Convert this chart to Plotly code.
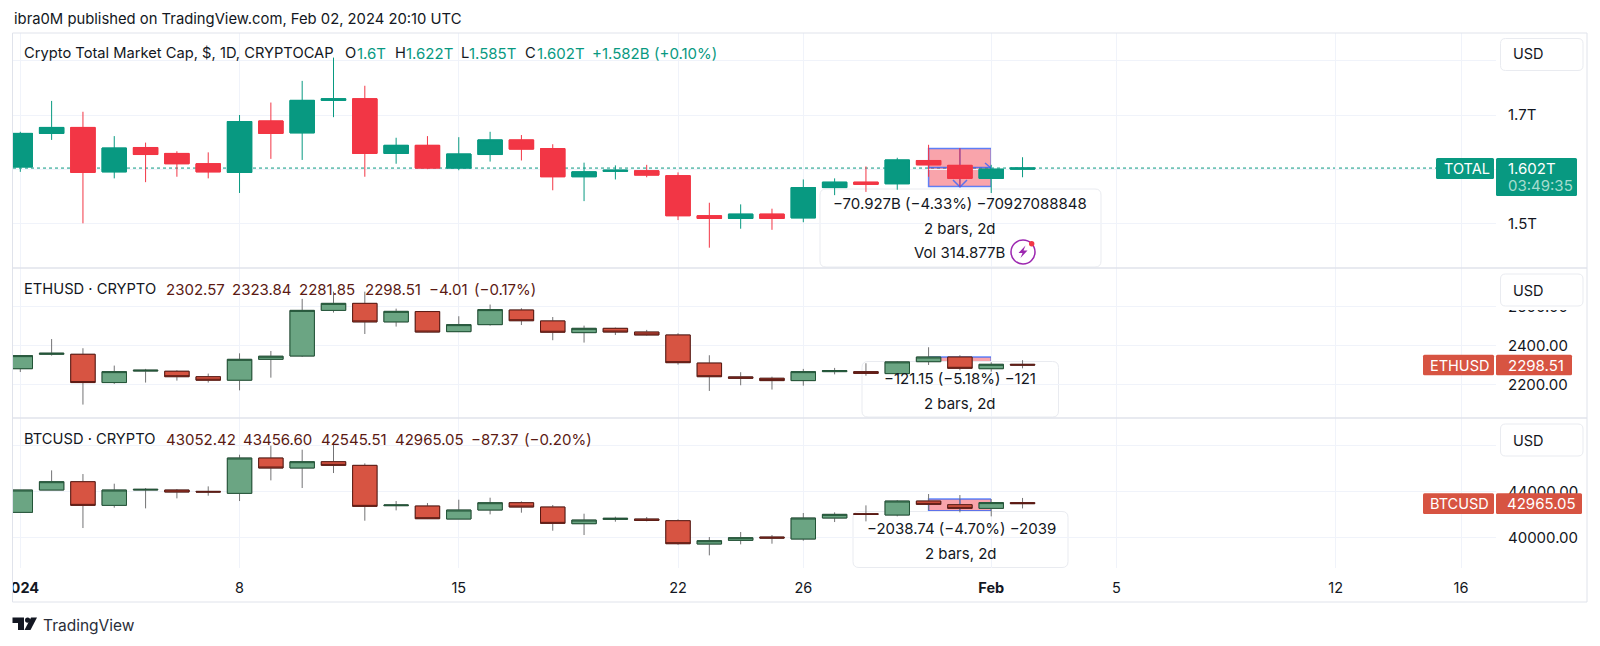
#!/usr/bin/env python3
"""TradingView style snapshot: total market cap, ETHUSD and BTCUSD daily candles."""

from datetime import timedelta

import pandas as pd
import plotly.graph_objects as go

WIDTH, HEIGHT = 1600, 646
FONT = "Inter, 'Noto Sans', sans-serif"
INK = "#131722"
GRID = "#f0f3fa"
FRAME = "#e0e3eb"
TV_GREEN = "#089981"
TV_RED = "#f23645"
MUTED_GREEN = "#6ba583"
MUTED_RED = "#d75442"
DARK_GREEN = "#225437"
DARK_RED = "#5b1a13"
WICK_GREY = "#737375"

dates = pd.date_range("2024-01-01", "2024-02-02", freq="D")

total_open = [1.604, 1.666, 1.677, 1.595, 1.640, 1.629, 1.610, 1.594, 1.689, 1.667, 1.727,
              1.730, 1.629, 1.644, 1.602, 1.627, 1.654, 1.638, 1.586, 1.596, 1.597, 1.588,
              1.514, 1.509, 1.517, 1.510, 1.566, 1.576, 1.573, 1.616, 1.607, 1.583, 1.600]
total_high = [1.669, 1.726, 1.706, 1.661, 1.649, 1.633, 1.631, 1.700, 1.723, 1.763, 1.806,
              1.754, 1.658, 1.661, 1.659, 1.669, 1.663, 1.646, 1.612, 1.607, 1.608, 1.594,
              1.538, 1.535, 1.527, 1.581, 1.583, 1.605, 1.621, 1.645, 1.639, 1.608, 1.622]
total_low = [1.595, 1.654, 1.500, 1.583, 1.576, 1.586, 1.583, 1.556, 1.619, 1.617, 1.696,
             1.586, 1.610, 1.600, 1.598, 1.614, 1.616, 1.561, 1.541, 1.581, 1.585, 1.506,
             1.455, 1.490, 1.488, 1.502, 1.552, 1.558, 1.562, 1.586, 1.568, 1.556, 1.585]
total_close = [1.666, 1.677, 1.594, 1.639, 1.627, 1.610, 1.595, 1.688, 1.666, 1.727, 1.730,
               1.629, 1.644, 1.602, 1.628, 1.654, 1.637, 1.586, 1.595, 1.598, 1.589, 1.514,
               1.509, 1.517, 1.509, 1.566, 1.576, 1.572, 1.617, 1.608, 1.583, 1.600, 1.602]

eth_open = [2280, 2354, 2354, 2209, 2268, 2267, 2239, 2221, 2328, 2345, 2579, 2615, 2520,
            2573, 2470, 2506, 2581, 2525, 2465, 2487, 2468, 2453, 2309, 2238, 2231, 2219,
            2265, 2265, 2255, 2316, 2340, 2280, 2302.57]
eth_high = [2347, 2432, 2385, 2296, 2279, 2272, 2255, 2359, 2371, 2638, 2675, 2675, 2588,
            2576, 2549, 2609, 2590, 2545, 2501, 2491, 2479, 2462, 2349, 2262, 2239, 2279,
            2284, 2308, 2318, 2390, 2349, 2313, 2323.84]
eth_low = [2263, 2347, 2096, 2202, 2209, 2219, 2209, 2169, 2234, 2340, 2568, 2458, 2496,
           2467, 2468, 2501, 2504, 2426, 2414, 2453, 2450, 2301, 2166, 2195, 2173, 2193,
           2251, 2244, 2244, 2299, 2272, 2265, 2281.85]
eth_close = [2347, 2359, 2209, 2265, 2272, 2239, 2221, 2328, 2344, 2579, 2615, 2520, 2574,
             2468, 2506, 2583, 2526, 2467, 2487, 2468, 2453, 2311, 2239, 2231, 2219, 2265,
             2270, 2256, 2315, 2340, 2282, 2302.5, 2298.51]

btc_open = [42203, 44145, 44870, 42812, 44145, 44145, 44029, 43855, 46928, 46058, 46609,
            46290, 42783, 42754, 41623, 42406, 43043, 42667, 41217, 41594, 41623, 41478,
            39449, 39768, 40058, 39884, 41710, 42087, 41971, 43188, 42870, 42551, 43052.42]
btc_high = [44145, 45855, 45536, 44696, 44319, 44232, 44464, 47217, 48000, 47652, 48290,
            46464, 43188, 43014, 43304, 43478, 43159, 42841, 42087, 41826, 41797, 41594,
            40058, 40493, 40232, 42145, 42203, 42812, 43275, 43797, 43710, 43362, 43456.60]
btc_low = [42203, 44145, 40840, 42609, 42551, 43420, 43652, 43188, 44986, 44319, 45623,
           41478, 42377, 41623, 41623, 42029, 42174, 40609, 40232, 41391, 41420, 39391,
           38464, 39420, 39478, 39739, 41362, 41420, 41855, 42406, 42203, 41855, 42545.51]
btc_close = [44145, 44870, 42812, 44145, 44203, 43971, 43971, 46928, 46058, 46609, 46290,
             42725, 42841, 41652, 42406, 43043, 42667, 41246, 41536, 41681, 41507, 39478,
             39739, 40000, 39971, 41710, 42029, 42029, 43188, 42899, 42551, 43052, 42965.05]

x_tick_dates = ["2024-01-01", "2024-01-08", "2024-01-15", "2024-01-22", "2024-01-26",
                "2024-02-01", "2024-02-05", "2024-02-12", "2024-02-16"]
x_tick_labels = ["<b>2024</b>", "8", "15", "22", "26", "<b>Feb</b>", "5", "12", "16"]

# 1.6T, 1.8T and 48000.00 sit behind the tag and the USD box in the screenshot
total_ticks = [1.5, 1.6, 1.7, 1.8]
total_tick_labels = ["1.5T", "", "1.7T", ""]
eth_ticks = [2200, 2400, 2600]
eth_tick_labels = ["2200.00", "2400.00", "2600.00"]
btc_ticks = [40000, 44000, 48000]
btc_tick_labels = ["40000.00", "44000.00", ""]

# pixel layout of the panes
PLOT_LEFT, PLOT_RIGHT, FRAME_RIGHT = 13.0, 1496.0, 1587.0
FRAME_BOTTOM = 602.0
PANES = [(33.0, 268.0), (268.0, 418.0), (418.0, 568.0)]
Y_RANGES = [(1.4175, 1.8514), (2027.2, 2796.4), (37365.0, 50409.0)]
JAN1_PX, DAY_PX = 20.3, 31.32
FIRST_DAY = pd.Timestamp("2024-01-01")


def px(x):
    return x / WIDTH


def py(y):
    return 1 - y / HEIGHT


def day_at(x):
    """Date string of a horizontal pixel, in the form shape paths want."""
    stamp = FIRST_DAY + timedelta(days=(x - JAN1_PX) / DAY_PX)
    return stamp.strftime("%Y-%m-%d_%H:%M:%S")


def value_at(pane, y):
    top, bottom = PANES[pane]
    low, high = Y_RANGES[pane]
    return high - (y - top) / (bottom - top) * (high - low)


def round_box(x0, y0, x1, y1, r, fx=px, fy=py):
    return (
        f"M{fx(x0 + r)},{fy(y0)} L{fx(x1 - r)},{fy(y0)} Q{fx(x1)},{fy(y0)} {fx(x1)},{fy(y0 + r)} "
        f"L{fx(x1)},{fy(y1 - r)} Q{fx(x1)},{fy(y1)} {fx(x1 - r)},{fy(y1)} "
        f"L{fx(x0 + r)},{fy(y1)} Q{fx(x0)},{fy(y1)} {fx(x0)},{fy(y1 - r)} "
        f"L{fx(x0)},{fy(y0 + r)} Q{fx(x0)},{fy(y0)} {fx(x0 + r)},{fy(y0)} Z"
    )


def poly(points, fx=px, fy=py, closed=True):
    path = " ".join(f"{'M' if i == 0 else 'L'}{fx(x)},{fy(y)}" for i, (x, y) in enumerate(points))
    return path + (" Z" if closed else "")


def paper_rect(x0, y0, x1, y1, fill, line=None, layer="above", width=1):
    return dict(type="rect", xref="paper", yref="paper", layer=layer,
                x0=px(x0), x1=px(x1), y0=py(y0), y1=py(y1), fillcolor=fill,
                line=dict(color=line or fill, width=width if line else 0))


def paper_path(path, fill=None, line=None, width=1, layer="above"):
    return dict(type="path", xref="paper", yref="paper", layer=layer, path=path,
                fillcolor=fill or "rgba(0,0,0,0)",
                line=dict(color=line or "rgba(0,0,0,0)", width=width if line else 0))


def label(x, y, text, color=INK, size=15, anchor="left", family=FONT):
    return dict(xref="paper", yref="paper", x=px(x), y=py(y), text=text, showarrow=False,
                xanchor=anchor, yanchor="middle", align=anchor,
                font=dict(family=family, size=size, color=color))


def candle_traces(o, h, l, c, pane, green, red, green_edge, red_edge, wick_green, wick_red):
    """Wicks and bodies are separate traces because a candlestick has one line colour."""
    suffix = "" if pane == 0 else str(pane + 1)
    wicks = go.Candlestick(
        x=dates, open=o, high=h, low=l, close=c, xaxis=f"x{suffix}", yaxis=f"y{suffix}",
        increasing=dict(line=dict(color=wick_green, width=1), fillcolor=green),
        decreasing=dict(line=dict(color=wick_red, width=1), fillcolor=red),
        whiskerwidth=0, hoverinfo="skip",
    )
    bodies = go.Candlestick(
        x=dates, open=o, close=c,
        high=[max(a, b) for a, b in zip(o, c)], low=[min(a, b) for a, b in zip(o, c)],
        xaxis=f"x{suffix}", yaxis=f"y{suffix}",
        increasing=dict(line=dict(color=green_edge, width=1), fillcolor=green),
        decreasing=dict(line=dict(color=red_edge, width=1), fillcolor=red),
        whiskerwidth=0, hoverinfo="skip",
    )
    return [wicks, bodies]


fig = go.Figure()
for trace in candle_traces(total_open, total_high, total_low, total_close, 0,
                           TV_GREEN, TV_RED, TV_GREEN, TV_RED, TV_GREEN, TV_RED):
    fig.add_trace(trace)
for trace in candle_traces(eth_open, eth_high, eth_low, eth_close, 1,
                           MUTED_GREEN, MUTED_RED, DARK_GREEN, DARK_RED, WICK_GREY, WICK_GREY):
    fig.add_trace(trace)
for trace in candle_traces(btc_open, btc_high, btc_low, btc_close, 2,
                           MUTED_GREEN, MUTED_RED, DARK_GREEN, DARK_RED, WICK_GREY, WICK_GREY):
    fig.add_trace(trace)

x_range = [day_at(PLOT_LEFT).replace("_", " "), day_at(PLOT_RIGHT).replace("_", " ")]
layout = dict(
    width=WIDTH, height=HEIGHT, autosize=False,
    margin=dict(l=0, r=0, t=0, b=0, pad=0, autoexpand=False),
    paper_bgcolor="white", plot_bgcolor="white", showlegend=False,
    boxgap=0.22, boxgroupgap=0, font=dict(family=FONT, color=INK, size=15),
)
y_ticks = [(total_ticks, total_tick_labels), (eth_ticks, eth_tick_labels), (btc_ticks, btc_tick_labels)]
for i, (top, bottom) in enumerate(PANES):
    suffix = "" if i == 0 else str(i + 1)
    layout[f"xaxis{suffix}"] = dict(
        domain=[px(PLOT_LEFT), px(PLOT_RIGHT)], range=x_range, anchor=f"y{suffix}", type="date",
        tickmode="array", tickvals=x_tick_dates, ticktext=x_tick_labels, showticklabels=i == 2,
        ticks="", ticklabelstandoff=9, showgrid=True, gridcolor=GRID, gridwidth=1, zeroline=False,
        showline=False, rangeslider=dict(visible=False), tickfont=dict(family=FONT, size=14.5, color=INK),
        matches=None if i == 0 else "x", automargin=False,
    )
    layout[f"yaxis{suffix}"] = dict(
        domain=[py(bottom), py(top)], range=list(Y_RANGES[i]), anchor=f"x{suffix}", side="right",
        tickmode="array", tickvals=y_ticks[i][0], ticktext=y_ticks[i][1], ticks="",
        ticklabelstandoff=11, showgrid=True, gridcolor=GRID, gridwidth=1, zeroline=False,
        showline=False, tickfont=dict(family=FONT, size=15, color=INK), automargin=False,
    )
fig.update_layout(**layout)

# price measure tool, same two bars on each pane
MEASURE_FILL = "rgba(242,54,69,0.45)"
MEASURE_LINE = "rgba(41,98,255,0.75)"
measure_left, measure_right = "2024-01-30", "2024-02-01"
measure_mid = "2024-01-31"
measure_tops = [1.638, 2340, 43362]
measure_bottoms = [1.568, 2219, 41323]
tooltips = [(820, 189, 1101, 267), (862, 361.5, 1058.5, 417), (853, 511.5, 1068, 567.5)]

shapes = [dict(type="line", xref="x", yref="y", layer="below", x0=x_range[0], x1=day_at(1436).replace("_", " "),
               y0=total_close[-1], y1=total_close[-1], line=dict(color=TV_GREEN, width=1, dash="dot"))]
for i in range(3):
    suffix = "" if i == 0 else str(i + 1)
    top, bottom = measure_tops[i], measure_bottoms[i]
    refs = dict(xref=f"x{suffix}", yref=f"y{suffix}", layer="below")
    shapes.append(dict(type="rect", x0=measure_left, x1=measure_right, y0=bottom, y1=top,
                       fillcolor=MEASURE_FILL, line=dict(color=MEASURE_LINE, width=1.5), **refs))
    shapes.append(dict(type="line", x0=measure_mid, x1=measure_mid, y0=bottom, y1=top,
                       line=dict(color=MEASURE_LINE, width=1.5), **refs))
    mid_value = (top + bottom) / 2
    shapes.append(dict(type="line", x0=measure_left, x1=measure_right, y0=mid_value, y1=mid_value,
                       line=dict(color=MEASURE_LINE, width=1.5), **refs))
    # tooltip sits on the measure but under the candles
    x0, y0, x1, y1 = tooltips[i]
    fy = lambda y, pane=i: value_at(pane, y)
    shapes.append(dict(type="path", path=round_box(x0, y0, x1, y1, 6, fx=day_at, fy=fy),
                       fillcolor="white", line=dict(color="#e9ebf0", width=1), **refs))

# arrow heads of the measure on the top pane
fy0 = lambda y: value_at(0, y)
for points in ([(953, 180), (960, 187), (967, 180)], [(985, 163), (991.5, 168.5), (985, 174)]):
    shapes.append(dict(type="path", xref="x", yref="y", layer="below",
                       path=poly(points, fx=day_at, fy=fy0, closed=False),
                       line=dict(color=MEASURE_LINE, width=1.5)))

# frame, pane separators and the cover for the clipped first time label
shapes += [
    paper_rect(0, 572, 12.5, 600, "white"),
    paper_rect(1496.5, 268.5, 1586, 310, "white"),
    paper_rect(12.5, 33, FRAME_RIGHT, FRAME_BOTTOM, "rgba(0,0,0,0)", line=FRAME),
    dict(type="line", xref="paper", yref="paper", layer="above", x0=px(12.5), x1=px(FRAME_RIGHT),
         y0=py(268), y1=py(268), line=dict(color=FRAME, width=1.5)),
    dict(type="line", xref="paper", yref="paper", layer="above", x0=px(12.5), x1=px(FRAME_RIGHT),
         y0=py(418), y1=py(418), line=dict(color=FRAME, width=1.5)),
]
for top in (38.5, 274, 424):
    shapes.append(paper_path(round_box(1500.5, top, 1583, top + 32, 5), fill="white", line="#e9ebf0"))

# last price tags
tag_rows = [
    (158, 179, 196, 1436, 1577, TV_GREEN),
    (354.7, 375.3, 375.3, 1423, 1572, MUTED_RED),
    (493.3, 514, 514, 1423, 1582, MUTED_RED),
]
for y0, y_name, y_value, x_name, x_value, color in tag_rows:
    shapes.append(paper_path(round_box(x_name, y0, 1494, y_name, 1.5), fill=color))
    shapes.append(paper_path(round_box(1496, y0, x_value, y_value, 1.5), fill=color))

# volume badge
shapes += [
    dict(type="circle", xref="paper", yref="paper", layer="above", x0=px(1011), x1=px(1035), y0=py(264), y1=py(240),
         line=dict(color="#9c27b0", width=1.5), fillcolor="white"),
    paper_path(poly([(1025.5, 245.5), (1018.5, 253), (1022.5, 253), (1020.5, 258), (1027.5, 250.5), (1023.5, 250.5)]),
               fill="#9c27b0"),
    dict(type="circle", xref="paper", yref="paper", layer="above", x0=px(1029), x1=px(1034.4), y0=py(246.4), y1=py(241),
         line=dict(width=0), fillcolor=TV_RED),
]

# TradingView mark
shapes += [
    paper_path(poly([(12.5, 617.5), (24, 617.5), (24, 630), (18, 630), (18, 623), (12.5, 623)]), fill=INK),
    dict(type="circle", xref="paper", yref="paper", layer="above", x0=px(25), x1=px(30.2), y0=py(622.7), y1=py(617.5),
         line=dict(width=0), fillcolor=INK),
    paper_path(poly([(31, 617.5), (37, 617.5), (30.5, 630), (24.5, 630)]), fill=INK),
]
fig.update_layout(shapes=shapes)

DOWN_TEXT = DARK_RED
notes = [
    label(11.5, 19, "ibra0M published on TradingView.com, Feb 02, 2024 20:10 UTC", size=14.8),
    label(21.5, 53, "Crypto Total Market Cap, $, 1D, CRYPTOCAP", size=14.7),
    label(343, 53, "O", size=14.7), label(354.7, 53, "1.6T", TV_GREEN),
    label(392.6, 53, "H", size=14.7), label(403.6, 53, "1.622T", TV_GREEN),
    label(458.7, 53, "L", size=14.7), label(467, 53, "1.585T", TV_GREEN),
    label(523, 53, "C", size=14.7), label(535, 53, "1.602T", TV_GREEN),
    label(590, 53, "+1.582B", TV_GREEN), label(652, 53, "(+0.10%)", TV_GREEN),
    label(21.7, 289, "ETHUSD · CRYPTO", size=14.7),
    label(163.6, 289, "2302.57", DOWN_TEXT), label(229.7, 289, "2323.84", DOWN_TEXT),
    label(297.2, 289, "2281.85", DOWN_TEXT), label(363.3, 289, "2298.51", DOWN_TEXT),
    label(427.4, 289, "−4.01", DOWN_TEXT), label(471.5, 289, "(−0.17%)", DOWN_TEXT),
    label(21.7, 439, "BTCUSD · CRYPTO", size=14.7),
    label(163.6, 439, "43052.42", DOWN_TEXT), label(240.7, 439, "43456.60", DOWN_TEXT),
    label(318.6, 439, "42545.51", DOWN_TEXT), label(393, 439, "42965.05", DOWN_TEXT),
    label(469.4, 439, "−87.37", DOWN_TEXT), label(522.4, 439, "(−0.20%)", DOWN_TEXT),
    label(960, 203, "−70.927B (−4.33%) −70927088848", anchor="center"),
    label(960, 228, "2 bars, 2d", anchor="center"),
    label(912, 252, "Vol 314.877B"),
    label(960, 378, "−121.15 (−5.18%) −121", anchor="center"),
    label(960, 403, "2 bars, 2d", anchor="center"),
    label(961, 528, "−2038.74 (−4.70%) −2039", anchor="center"),
    label(961, 553, "2 bars, 2d", anchor="center"),
    label(1511, 54, "USD", size=14.5), label(1511, 290, "USD", size=14.5), label(1511, 440, "USD", size=14.5),
    label(1442, 168.5, "TOTAL", "white", size=14.5),
    label(1506, 168.5, "1.602T", "white"), label(1506, 185.5, "03:49:35", "#a6dccf"),
    label(1428, 365, "ETHUSD", "white", size=14.5), label(1506, 365, "2298.51", "white"),
    label(1428, 503.5, "BTCUSD", "white", size=14.5), label(1505, 503.5, "42965.05", "white"),
    label(41, 625, "TradingView", "#2a2e39", size=15.5),
]
fig.update_layout(annotations=notes)

fig.write_html("out.html", config={"displayModeBar": False},
               post_script="document.body.style.margin='0';")
